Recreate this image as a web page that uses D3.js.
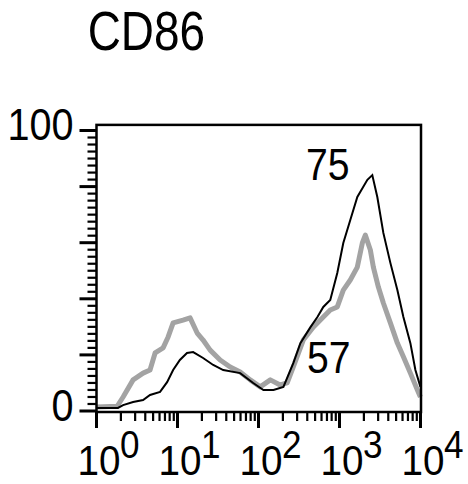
<!DOCTYPE html>
<html>
<head>
<meta charset="utf-8">
<script src="https://cdn.jsdelivr.net/npm/d3@7"></script>
<style>
  html, body { margin: 0; padding: 0; background: #fff; }
  svg { display: block; }
  text { font-family: "Liberation Sans", Arial, Helvetica, sans-serif; fill: #000; }
</style>
</head>
<body>
<svg id="chart" width="468" height="484"></svg>
<script>
// ---- data ----
const title = "CD86";
// gray (thick) histogram: 57% positive
const grayX = [1.0, 1.8, 2.13, 2.83, 3.76, 4.58, 5.29, 6.64, 7.66, 8.83, 11.7, 14.3, 17.5, 20.7, 25.3, 33.6, 44.7, 59.4, 79.0, 105, 140, 185, 226, 269, 357, 474, 631, 769, 939, 1114, 1359, 1660, 1914, 2084, 2404, 2618, 3020, 3478, 4246, 5180, 6150, 7500, 9160, 9980];
const grayY = [1.4, 1.7, 5.0, 11.1, 13.5, 14.6, 20.7, 22.5, 26.4, 31.4, 32.4, 33.2, 27.8, 25.3, 21.7, 18.2, 15.7, 13.9, 11.1, 8.6, 11.1, 9.3, 10.0, 15.7, 25.3, 29.9, 33.5, 36.0, 37.1, 43.1, 46.7, 51.3, 59.9, 62.7, 57.4, 51.3, 44.2, 38.5, 31.4, 24.2, 19.3, 13.5, 7.5, 5.0];
// black (thin) histogram: 75% positive
const blackX = [1.0, 1.84, 2.13, 2.83, 3.76, 4.58, 6.09, 7.44, 8.83, 10.7, 13.1, 15.6, 20.7, 27.6, 36.7, 59.4, 86.0, 115, 153, 203, 269, 329, 438, 534, 631, 769, 939, 1114, 1359, 1660, 2208, 2541, 2930, 3478, 4246, 5180, 6150, 7500, 8650, 9980];
const blackY = [1.1, 1.1, 2.1, 3.2, 3.9, 5.7, 6.8, 10.3, 14.6, 18.2, 20.7, 21.0, 18.9, 16.4, 14.6, 13.5, 10.0, 7.5, 7.5, 8.6, 17.1, 24.2, 29.9, 33.5, 37.1, 39.6, 49.2, 59.9, 68.1, 76.3, 82.4, 84.1, 76.3, 63.5, 52.8, 43.1, 33.5, 24.2, 14.6, 8.6];
const percentLabels = ["75", "57"];
const yTickLabels = [0, 100];
const xDecades = [0, 1, 2, 3, 4];

// ---- layout ----
const svg = d3.select("#chart");
const x = d3.scaleLog().domain([1, 10000]).range([96.5, 420.5]);
const y = d3.scaleLinear().domain([0, 100]).range([411, 130.5]);
const boxTop = y(102);
const boxBottom = 412;
const boxLeft = 96.5, boxRight = 421;

// curves
const line = d3.line().x(d => x(d[0])).y(d => y(d[1]));
svg.append("path")
  .datum(d3.zip(grayX, grayY))
  .attr("d", line)
  .attr("fill", "none")
  .attr("stroke", "#a3a3a3")
  .attr("stroke-width", 5)
  .attr("stroke-linejoin", "round");
svg.append("path")
  .datum(d3.zip(blackX, blackY))
  .attr("d", line)
  .attr("fill", "none")
  .attr("stroke", "#000")
  .attr("stroke-width", 2)
  .attr("stroke-linejoin", "miter");

// frame
svg.append("rect")
  .attr("x", boxLeft).attr("y", boxTop)
  .attr("width", boxRight - boxLeft).attr("height", boxBottom - boxTop)
  .attr("fill", "none").attr("stroke", "#000").attr("stroke-width", 2.5);

// y ticks
const yMinor = d3.range(0, 100.01, 2.5);
svg.append("g").selectAll("line").data(yMinor).join("line")
  .attr("x1", d => (d % 20 === 0) ? boxLeft - 17 : boxLeft - 9)
  .attr("x2", boxLeft)
  .attr("y1", d => y(d)).attr("y2", d => y(d))
  .attr("stroke", "#000")
  .attr("stroke-width", d => (d % 20 === 0) ? 3 : 2.2);

// x ticks
const xMinor = [];
for (let e = 0; e < 4; e++) for (let m = 2; m <= 9; m++) xMinor.push(m * Math.pow(10, e));
svg.append("g").selectAll("line").data(xMinor).join("line")
  .attr("x1", d => x(d)).attr("x2", d => x(d))
  .attr("y1", boxBottom).attr("y2", boxBottom + 9)
  .attr("stroke", "#000").attr("stroke-width", 2.2);
svg.append("g").selectAll("line").data(xDecades).join("line")
  .attr("x1", d => x(Math.pow(10, d))).attr("x2", d => x(Math.pow(10, d)))
  .attr("y1", boxBottom).attr("y2", boxBottom + 16)
  .attr("stroke", "#000").attr("stroke-width", 3);

// y tick labels
svg.append("g").selectAll("text").data(yTickLabels).join("text")
  .attr("transform", d => `translate(73.6,${y(d) + 9.5}) scale(0.9,1)`)
  .attr("text-anchor", "end")
  .attr("font-size", 44)
  .text(d => d);

// x tick labels 10^n
const xl = svg.append("g").selectAll("g").data(xDecades).join("g")
  .attr("transform", d => `translate(${x(Math.pow(10, d))},0)`);
xl.append("text")
  .attr("transform", "translate(-19,475) scale(0.92,1)")
  .attr("font-size", 42)
  .text("10");
xl.append("text")
  .attr("transform", "translate(23.5,458) scale(0.9,1)")
  .attr("font-size", 39)
  .text(d => d);

// title
svg.append("text")
  .attr("transform", "translate(87.7,50) scale(0.82,1)")
  .attr("font-size", 56)
  .text(title);

// percent labels
svg.append("text")
  .attr("transform", "translate(306,180) scale(0.87,1)")
  .attr("font-size", 45)
  .text(percentLabels[0]);
svg.append("text")
  .attr("transform", "translate(307,373) scale(0.87,1)")
  .attr("font-size", 45)
  .text(percentLabels[1]);
</script>
</body>
</html>
